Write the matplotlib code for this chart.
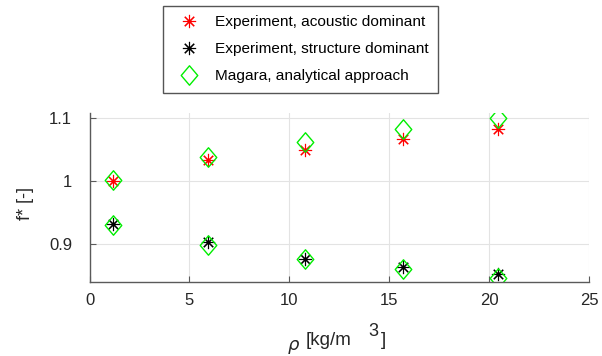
import matplotlib.pyplot as plt
from matplotlib.path import Path

plt.rcParams['font.family'] = ['Liberation Sans', 'DejaVu Sans']

# density values [kg/m^3]
rho = [1.18, 5.92, 10.79, 15.70, 20.46]

# normalized frequency f*
f_acoustic = [1.000, 1.033, 1.048, 1.066, 1.082]
f_structure = [0.931, 0.9025, 0.877, 0.8645, 0.852]
f_magara_acoustic = [1.0015, 1.037, 1.061, 1.082, 1.100]
f_magara_structure = [0.930, 0.898, 0.877, 0.860, 0.846]

x_ticks = [0, 5, 10, 15, 20, 25]
y_ticks = [0.9, 1.0, 1.1]
y_tick_labels = ['0.9', '1', '1.1']

W, H = 602, 356
fig = plt.figure(figsize=(W / 100, H / 100), dpi=100)
ax = fig.add_axes([89.5 / W, 1 - 281.7 / H, (589 - 89.5) / W, (281.7 - 112.5) / H])

diamond = Path([(0, 1), (0.85, 0), (0, -1), (-0.85, 0), (0, 1)],
               [Path.MOVETO, Path.LINETO, Path.LINETO, Path.LINETO, Path.CLOSEPOLY])
asterisk = (8, 2, 0)

ax.plot(rho, f_acoustic, ls='none', marker=asterisk, ms=9.5, mew=0.8, color='#ff0000',
        label='Experiment, acoustic dominant')
ax.plot(rho, f_structure, ls='none', marker=asterisk, ms=9.5, mew=0.8, color='#000000',
        label='Experiment, structure dominant')
ax.plot(rho, f_magara_acoustic, ls='none', marker=diamond, ms=14, mew=1,
        mfc='none', mec='#00ee00', label='Magara, analytical approach')
ax.plot(rho, f_magara_structure, ls='none', marker=diamond, ms=14, mew=1,
        mfc='none', mec='#00ee00')

ax.set_xlim(0, 25)
ax.set_ylim(0.8405, 1.108)
ax.set_xticks(x_ticks)
ax.set_yticks(y_ticks)
ax.set_yticklabels(y_tick_labels)
ax.grid(True, color='#e3e3e3', lw=0.8)
ax.set_axisbelow(True)
for s in ['top', 'right']:
    ax.spines[s].set_visible(False)
for s in ['left', 'bottom']:
    ax.spines[s].set_color('#5a5a5a')
    ax.spines[s].set_linewidth(1.0)
ax.tick_params(direction='in', length=4, width=0.8, color='#5a5a5a',
               labelsize=12, labelcolor='#262626')
ax.tick_params(axis='y', pad=12.5)
ax.tick_params(axis='x', pad=8)

# axis labels, drawn in pieces like the reference
fig.text(25 / W, 1 - 203 / H, 'f* [-]', rotation=90, ha='center', va='center',
         fontsize=13, color='#262626')
fig.text(294 / W, 1 - 346.5 / H, r'$\rho$', ha='center', va='center', fontsize=13,
         color='#262626')
fig.text(306 / W, 1 - 345 / H, '[kg/m', ha='left', va='baseline', fontsize=13.5,
         color='#262626')
fig.text(373 / W, 1 - 331 / H, '3', ha='center', va='center', fontsize=13,
         color='#262626')
fig.text(381 / W, 1 - 345 / H, ']', ha='left', va='baseline', fontsize=13.5,
         color='#262626')

leg = fig.legend(loc='upper left', bbox_to_anchor=(163 / W, 1 - 6 / H),
                 borderaxespad=0, fontsize=11.1, frameon=True, fancybox=False,
                 edgecolor='#555555', framealpha=1, handlelength=2.2,
                 handletextpad=0.6, labelspacing=0.85, borderpad=0.6,
                 markerscale=1.0)
leg.get_frame().set_linewidth(1.0)

fig.savefig('out.png', dpi=100)
